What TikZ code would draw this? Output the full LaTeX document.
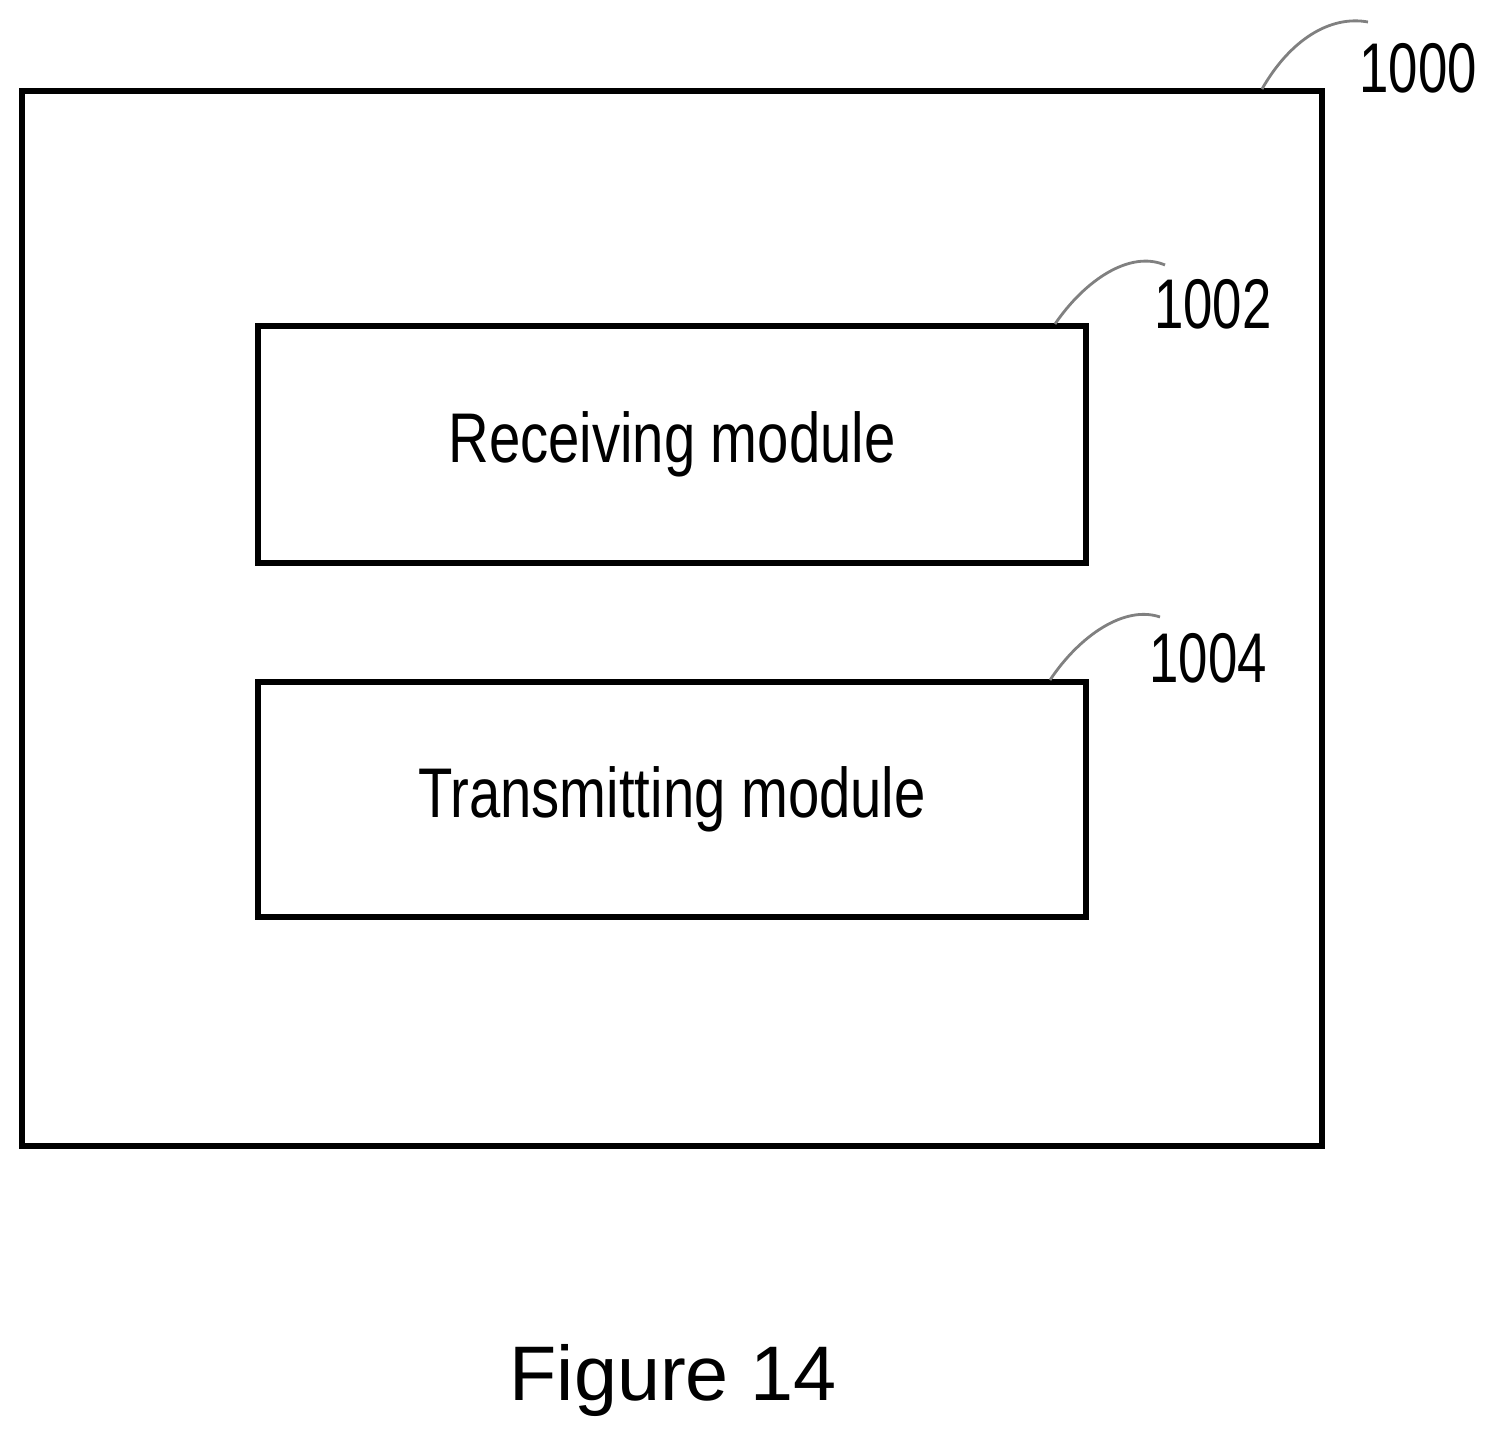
\documentclass[tikz,border=0pt]{standalone}
\usepackage{fontspec}
\setmainfont{Liberation Sans}
\usetikzlibrary{positioning}
\begin{document}
\begin{tikzpicture}[x=0.01cm, y=-0.01cm,
        box/.style={draw, line width=1.6pt},
        modtext/.style={font=\fontsize{20}{24}\selectfont, xscale=0.8},
        reftext/.style={font=\fontsize{20}{24}\selectfont, xscale=0.75},
        leader/.style={draw=gray, line width=0.8pt}
    ]
    \useasboundingbox (0,0) rectangle (1497,1442);
    % boxes
    \draw[box] (22,91) rectangle (1322,1146);
    \node[box, minimum width=8.28cm, minimum height=2.37cm] (rx) at (672,444.5) {};
    \node[box, minimum width=8.28cm, minimum height=2.35cm] (tx) at (672,799.5) {};
    \node[modtext] at (rx.center) {Receiving module};
    \node[modtext] at (tx.center) {Transmitting module};
    % reference numerals
    \node[reftext] (n1000) at (1418,68) {1000};
    \node[reftext] (n1002) at (1213,304) {1002};
    \node[reftext] (n1004) at (1208,658) {1004};
    \coordinate (c1000) at (1262,89);
    \coordinate (c1002) at (1055,324);
    \coordinate (c1004) at (1050,680);
    \draw[leader] (c1000) .. controls (1290,40) and (1330,15) .. (1368,22);
    \draw[leader] (c1002) .. controls (1085,280) and (1130,250) .. (1165,265);
    \draw[leader] (c1004) .. controls (1080,635) and (1125,605) .. (1160,617);
    \node[font=\fontsize{22}{26}\selectfont] (cap) at (673,1380) {Figure 14};
\end{tikzpicture}
\end{document}
